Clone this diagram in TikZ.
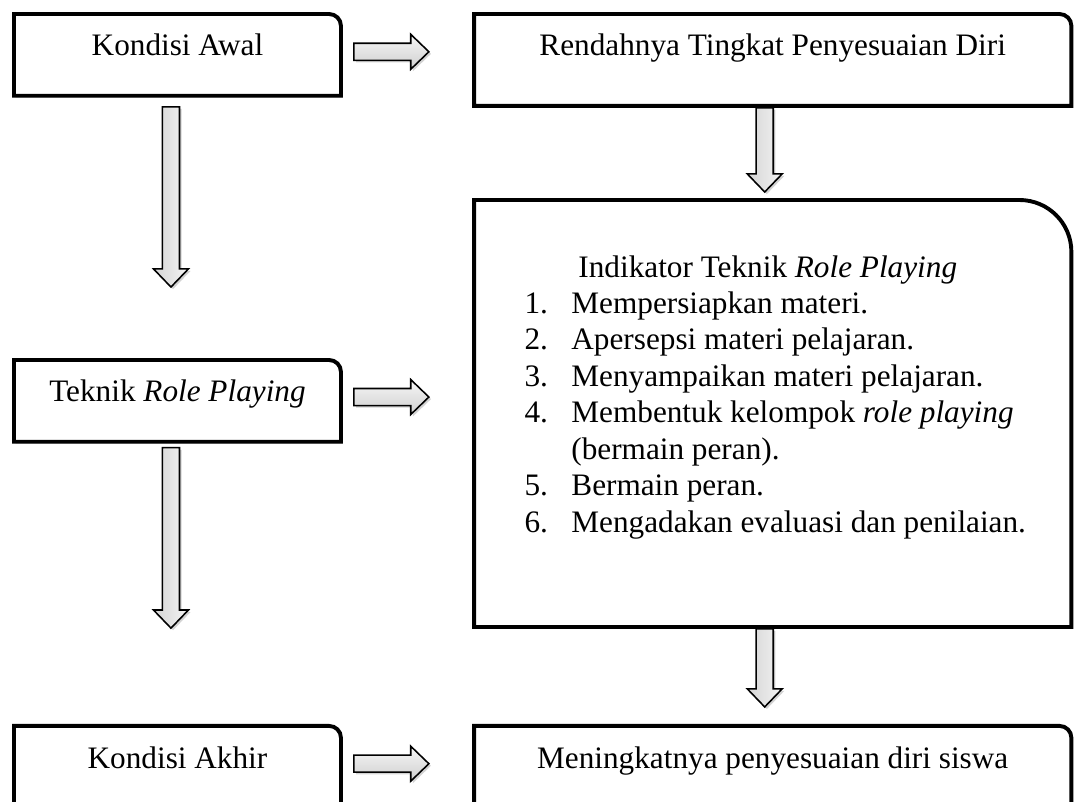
\documentclass[tikz,border=0pt]{standalone}
\usepackage{fontspec}
\setmainfont{Liberation Serif}
\usetikzlibrary{calc,shadows,backgrounds}

\begin{document}
\begin{tikzpicture}[
  txt/.style={font=\fontsize{12pt}{14pt}\selectfont, inner sep=0pt},
  box/.style={txt, anchor=north west, align=center,
    text height=15.7pt, text depth=15.3pt},
  narrow/.style={minimum width=4.40cm},
  wide/.style={minimum width=8.05cm},
  frame/.style={draw=black, line width=1.5pt, fill=white,
    drop shadow={shadow xshift=0.6pt, shadow yshift=-0.6pt, opacity=0.45}},
  blk/.style={draw=black, line width=0.6pt,
    drop shadow={shadow xshift=0.8pt, shadow yshift=-0.8pt, opacity=0.35}},
  hblk/.style={blk, top color=gray!6, bottom color=gray!38},
  vblk/.style={blk, left color=gray!34, right color=gray!8}
]

% -------------------------------------------------
% Page size
% -------------------------------------------------
\useasboundingbox (0,0) rectangle (14.594,-10.827);
\clip (0,0) rectangle (14.594,-10.827);

% -------------------------------------------------
% Block arrow sizes
% -------------------------------------------------
\def\shaftw{0.115cm}
\def\headw{0.236cm}
\def\headl{0.245cm}

\def\blkright#1#2{\draw[hblk] let \p1=#1, \p2=#2 in
  (\x1,\y1+\shaftw) -- (\x2-\headl,\y1+\shaftw) -- (\x2-\headl,\y1+\headw)
  -- (\x2,\y1) -- (\x2-\headl,\y1-\headw) -- (\x2-\headl,\y1-\shaftw)
  -- (\x1,\y1-\shaftw) -- cycle;}
\def\blkdown#1#2{\draw[vblk] let \p1=#1, \p2=#2 in
  (\x1-\shaftw,\y1) -- (\x1-\shaftw,\y2+\headl) -- (\x1-\headw,\y2+\headl)
  -- (\x1,\y2) -- (\x1+\headw,\y2+\headl) -- (\x1+\shaftw,\y2+\headl)
  -- (\x1+\shaftw,\y1) -- cycle;}

% -------------------------------------------------
% LEFT COLUMN
% -------------------------------------------------
\node[box, narrow] (awal) at (0.189,-0.189) {Kondisi Awal};
\node[box, narrow] (teknik) at (0.189,-4.86) {Teknik \textit{Role Playing}};
\node[box, narrow, text height=16.1pt, text depth=17pt] (akhir) at (0.189,-9.80) {Kondisi Akhir};

% -------------------------------------------------
% RIGHT COLUMN
% -------------------------------------------------
\node[box, wide, text depth=19.2pt] (rendah) at (6.40,-0.189) {Rendahnya Tingkat Penyesuaian Diri};
\node[txt, wide, anchor=north west, minimum height=5.75cm] (indik) at (6.40,-2.70) {};
\node[box, wide, text height=16.1pt, text depth=17pt] (tingkat) at (6.40,-9.80) {Meningkatnya penyesuaian diri siswa};

% indicator list
\node[txt, anchor=base west] (ilist) at ($(indik.north west)+(0.675,-1.04)$) {%
\begin{tabular}[t]{@{}l@{\hspace{9pt}}l@{}}
\multicolumn{2}{@{}l@{}}{\hspace{20.7pt}Indikator Teknik \textit{Role Playing}}\\
1. & Mempersiapkan materi.\\
2. & Apersepsi materi pelajaran.\\
3. & Menyampaikan materi pelajaran.\\
4. & Membentuk kelompok \textit{role playing}\\
   & (bermain peran).\\
5. & Bermain peran.\\
6. & Mengadakan evaluasi dan penilaian.
\end{tabular}};

% -------------------------------------------------
% Box outlines (top right corner rounded)
% -------------------------------------------------
\begin{scope}[on background layer]
\foreach \n/\r in {awal/0.16, teknik/0.16, akhir/0.16, rendah/0.16, tingkat/0.16, indik/0.7}
  \draw[frame] (\n.south west) -- (\n.north west) -- ([xshift=-\r cm]\n.north east)
    arc[start angle=90, end angle=0, radius=\r cm] -- (\n.south east) -- cycle;
\end{scope}

% -------------------------------------------------
% ARROWS
% -------------------------------------------------
% left column -> right column
\blkright{($(awal.north east)+(0.175,-0.51)$)}{($(rendah.west)+(-0.61,0)$)}
\blkright{($(teknik.north east)+(0.175,-0.50)$)}{($(indik.west)+(-0.61,0)$)}
\blkright{($(akhir.north east)+(0.175,-0.51)$)}{($(tingkat.west)+(-0.61,0)$)}

% down the left column
\blkdown{($(awal.south)+(-0.088,-0.15)$)}{($(teknik.north)+(0,0.985)$)}
\blkdown{($(teknik.south)+(-0.088,-0.08)$)}{($(akhir.north)+(0,1.32)$)}

% down the right column
\blkdown{($(rendah.south)+(-0.108,-0.027)$)}{($(indik.north)+(0,0.108)$)}
\blkdown{($(indik.south)+(-0.108,-0.027)$)}{($(tingkat.north)+(0,0.256)$)}

\end{tikzpicture}
\end{document}
